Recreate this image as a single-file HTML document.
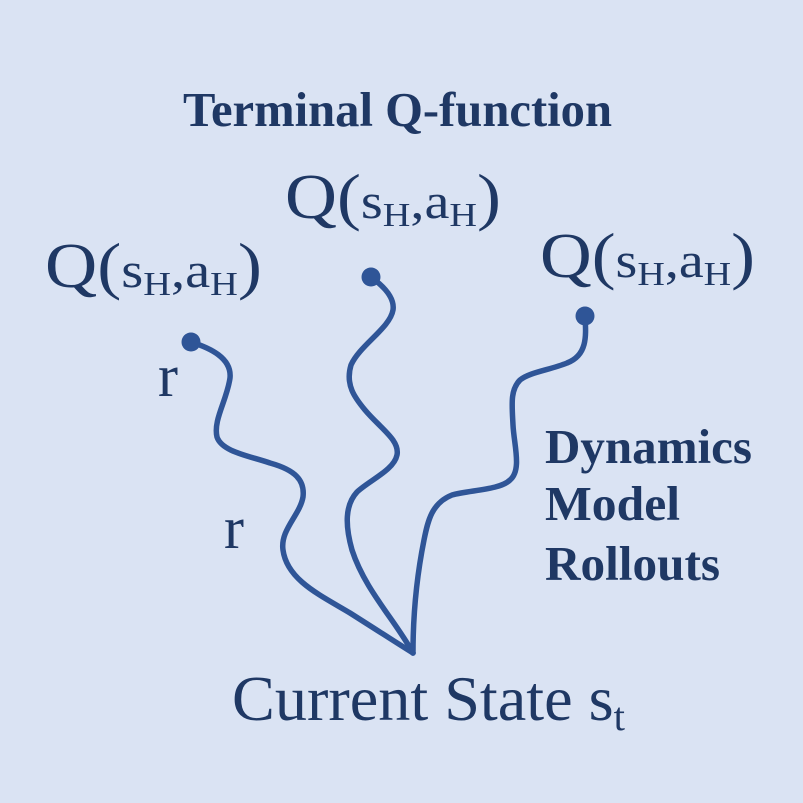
<!DOCTYPE html>
<html><head><style>
html,body{margin:0;padding:0;}
body{width:803px;height:803px;background:#dae3f3;overflow:hidden;}
svg{display:block;}
text{font-family:"Liberation Serif",serif;fill:#1f3864;}
</style></head><body>
<svg width="803" height="803" viewBox="0 0 803 803">
<rect width="803" height="803" fill="#dae3f3"/>
<g fill="none" stroke="#2f5597" stroke-width="5.5" stroke-linecap="round" stroke-linejoin="round">
<path d="M191,342 C210,348 232,358 230,378 C227,400 213,420 217,437 C222,452 250,456 270,463 C295,470 305,480 303,497 C300,515 280,530 283,550 C287,580 320,595 350,613 C380,632 400,645 413,653"/>
<path d="M371,277 C382,285 395,297 393,310 C390,328 360,345 351,365 C345,385 355,398 365,410 C380,428 400,440 397,455 C394,470 370,480 357,492 C345,505 345,525 352,550 C365,590 395,620 413,653"/>
<path d="M585,316 C586,335 588,355 567,363 C550,370 530,372 520,380 C510,390 512,405 513,425 C514,445 522,470 510,480 C500,490 470,490 452,495 C432,503 428,520 424,540 C418,570 413,610 413,653"/>
</g>
<g fill="#2f5597">
<circle cx="191" cy="342" r="9.5"/>
<circle cx="371" cy="277" r="9.5"/>
<circle cx="585" cy="316" r="9.5"/>
</g>
<text x="183" y="126" font-size="49" font-weight="bold" textLength="429" lengthAdjust="spacingAndGlyphs">Terminal Q-function</text>
<text x="45" y="287" font-size="64" textLength="217" lengthAdjust="spacingAndGlyphs">Q(<tspan font-size="50">s</tspan><tspan font-size="34" dy="8">H</tspan><tspan font-size="50" dy="-8">,a</tspan><tspan font-size="34" dy="8">H</tspan><tspan dy="-8">)</tspan></text>
<text x="285" y="218" font-size="64" textLength="216" lengthAdjust="spacingAndGlyphs">Q(<tspan font-size="50">s</tspan><tspan font-size="34" dy="8">H</tspan><tspan font-size="50" dy="-8">,a</tspan><tspan font-size="34" dy="8">H</tspan><tspan dy="-8">)</tspan></text>
<text x="540" y="277" font-size="64" textLength="215" lengthAdjust="spacingAndGlyphs">Q(<tspan font-size="50">s</tspan><tspan font-size="34" dy="8">H</tspan><tspan font-size="50" dy="-8">,a</tspan><tspan font-size="34" dy="8">H</tspan><tspan dy="-8">)</tspan></text>
<text x="158" y="396" font-size="60">r</text>
<text x="224" y="548" font-size="60">r</text>
<text x="545" y="463" font-size="49" font-weight="bold" textLength="207" lengthAdjust="spacingAndGlyphs">Dynamics</text>
<text x="545" y="520" font-size="49" font-weight="bold" textLength="135" lengthAdjust="spacingAndGlyphs">Model</text>
<text x="545" y="580" font-size="49" font-weight="bold" textLength="175" lengthAdjust="spacingAndGlyphs">Rollouts</text>
<text x="232" y="720" font-size="63" textLength="393" lengthAdjust="spacingAndGlyphs">Current State s<tspan font-size="40" dy="10">t</tspan></text>
</svg>
</body></html>
